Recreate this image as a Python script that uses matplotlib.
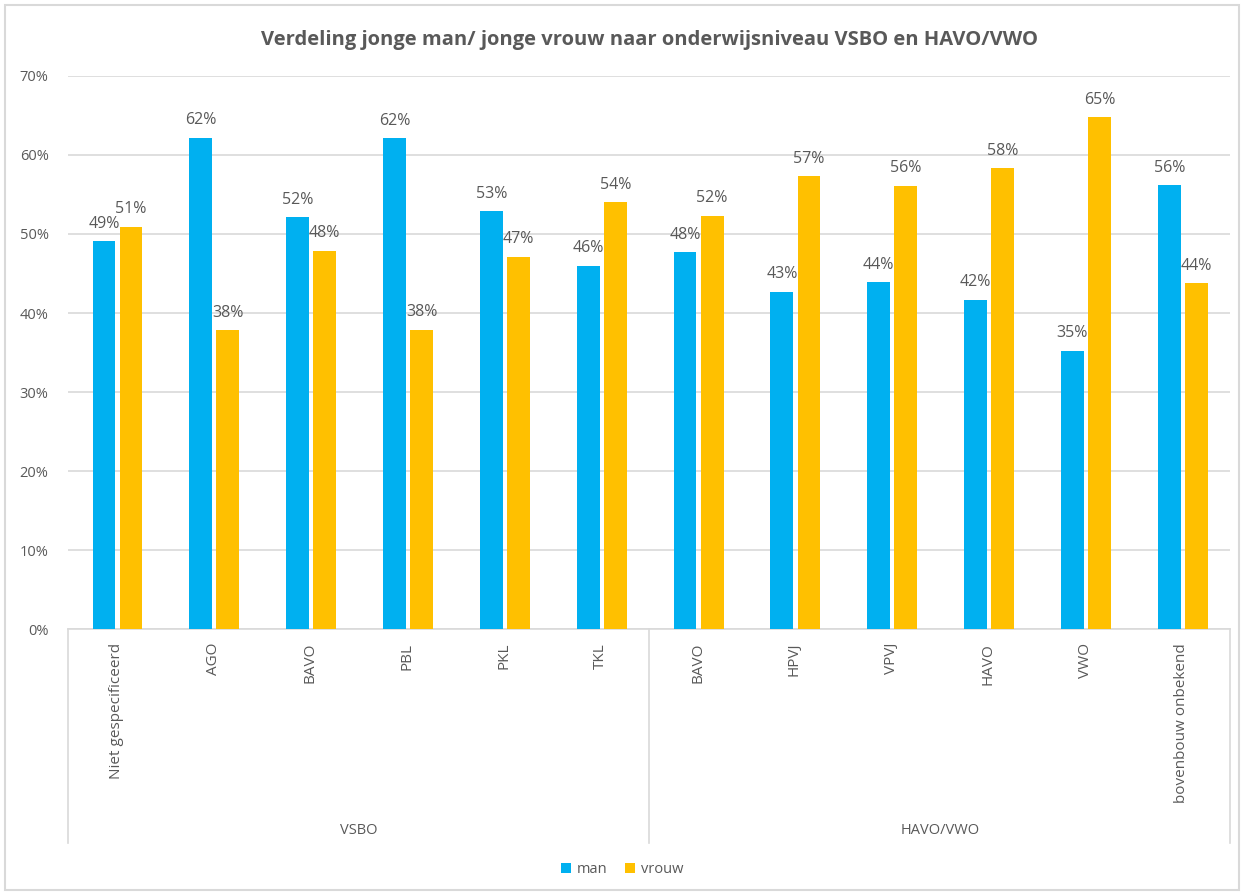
import matplotlib
matplotlib.use("Agg")
import matplotlib.pyplot as plt
import matplotlib.transforms as mtransforms
import numpy as np

plt.rcParams['font.family'] = ['Open Sans', 'DejaVu Sans']

categories = ["Niet gespecificeerd", "AGO", "BAVO", "PBL", "PKL", "TKL",
              "BAVO", "HPVJ", "VPVJ", "HAVO", "VWO", "bovenbouw onbekend"]
groups = ["VSBO", "HAVO/VWO"]
group_sizes = [6, 6]
man = [49.1, 62.2, 52.1, 62.1, 52.9, 46.0, 47.7, 42.7, 43.9, 41.7, 35.2, 56.2]
vrouw = [50.9, 37.8, 47.9, 37.9, 47.1, 54.0, 52.3, 57.3, 56.1, 58.3, 64.8, 43.8]
series_names = ["man", "vrouw"]
title = "Verdeling jonge man/ jonge vrouw naar onderwijsniveau VSBO en HAVO/VWO"

blue = "#00B0F0"
gold = "#FFC000"
txt = "#595959"
grid_c = "#D9D9D9"

fig = plt.figure(figsize=(12.44, 8.94), dpi=100)
ax = fig.add_axes([0.0547, 0.2964, 0.9343, 0.6186])

x = np.arange(len(categories))
w = 0.235
b1 = ax.bar(x - 0.13, man, w, color=blue, label=series_names[0], zorder=3)
b2 = ax.bar(x + 0.15, vrouw, w, color=gold, label=series_names[1], zorder=3)

for bars in (b1, b2):
    for r in bars:
        v = r.get_height()
        ax.text(r.get_x() + r.get_width() / 2, v + 1.2, f"{v:.0f}%",
                ha="center", va="bottom", fontsize=11.5, color=txt)

ax.set_xlim(-0.5, len(categories) - 0.5)
ax.set_ylim(0, 70)
ax.set_yticks(range(0, 71, 10))
ax.set_yticklabels([f"{t}%" for t in range(0, 71, 10)], fontsize=10.5, color=txt)
ax.yaxis.grid(True, color=grid_c, linewidth=1.2, zorder=0)
ax.tick_params(axis="y", length=0, pad=14)
ax.tick_params(axis="x", length=0, pad=10)
ax.set_xticks(x)
ax.set_xticklabels(categories, rotation=90, fontsize=11, color=txt, va="top")
for s in ["top", "right", "left"]:
    ax.spines[s].set_visible(False)
ax.spines["bottom"].set_color(grid_c)
ax.spines["bottom"].set_linewidth(1.2)

# group separators and group labels below the axis
trans = mtransforms.blended_transform_factory(ax.transData, ax.transAxes)
edges = np.concatenate([[0], np.cumsum(group_sizes)]) - 0.5
for e in edges:
    ax.plot([e, e], [0, -0.387], transform=trans, color=grid_c,
            linewidth=1.2, clip_on=False)
for i, g in enumerate(groups):
    mid = (edges[i] + edges[i + 1]) / 2
    ax.text(mid, -0.365, g, transform=trans, ha="center", va="center",
            fontsize=10.5, color=txt)

ax.set_title(title, fontsize=14.5, fontweight="bold", color=txt, pad=22)

fig.legend(loc="center", bbox_to_anchor=(0.5, 0.027), ncol=2, frameon=False,
           fontsize=10.5, labelcolor=txt, handlelength=0.7, handleheight=0.7,
           columnspacing=1.2, handletextpad=0.4)

fig.add_artist(plt.Rectangle((0.004, 0.004), 0.992, 0.99, fill=False,
                             edgecolor=grid_c, linewidth=1.5,
                             transform=fig.transFigure))

fig.savefig("out.png", dpi=100)
